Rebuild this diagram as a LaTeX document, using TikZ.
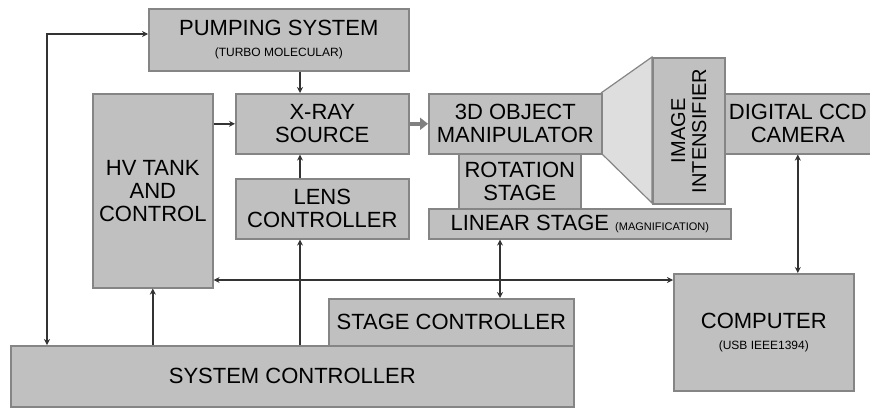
\documentclass[tikz,border=0pt]{standalone}
\usepackage{fontspec}
\setmainfont{Liberation Sans}
\usetikzlibrary{arrows.meta, positioning, calc}

\definecolor{boxgray}{HTML}{C0C0C0}
\definecolor{edgegray}{HTML}{858585}
\definecolor{conegray}{HTML}{DEDEDE}
\definecolor{wiregray}{HTML}{333333}

\tikzset{
  blk/.style={draw=edgegray, fill=boxgray, line width=0.8pt, inner sep=0pt,
    anchor=north west, align=center, text=black,
    font=\fontsize{11}{11.5}\selectfont},
  wire/.style={draw=wiregray, line width=0.8pt, {Stealth[length=3pt,width=3pt]}-{Stealth[length=3pt,width=3pt]}},
  wireto/.style={draw=wiregray, line width=0.8pt, -{Stealth[length=3pt,width=3pt]}},
  beam/.style={draw=gray, line width=2.2pt, -{Triangle[length=4pt,width=6pt]}}
}

\begin{document}
\begin{tikzpicture}[x=0.5pt, y=-0.5pt]
  \clip (0,0) rectangle (870,407);
  \useasboundingbox (0,0) rectangle (870,407);

  % Cone between manipulator and intensifier
  \draw[draw=edgegray, fill=conegray, line width=0.6pt]
    (601,93) -- (652,57) -- (652,203) -- (601,153);

  % Boxes
  \node[blk, minimum width=130pt, minimum height=31pt] (pump) at (148,8)
    {PUMPING SYSTEM\\[-1pt]{\fontsize{6}{7}\selectfont (TURBO MOLECULAR)}};
  \node[blk, minimum width=60pt, minimum height=97pt] (hv) at (92,93)
    {HV TANK\\AND\\CONTROL};
  \node[blk, minimum width=86.5pt, minimum height=30pt] (xray) at (235,93)
    {X-RAY\\SOURCE};
  \node[blk, minimum width=86.5pt, minimum height=30pt] (lens) at (235,178)
    {LENS\\CONTROLLER};
  \node[blk, minimum width=86.5pt, minimum height=30pt] (obj) at (428,93)
    {3D OBJECT\\MANIPULATOR};
  \node[blk, minimum width=61pt, minimum height=27.5pt] (rot) at (458,153)
    {ROTATION\\STAGE};
  \node[blk, minimum width=151pt, minimum height=15pt] (linear) at (428,208)
    {LINEAR STAGE {\fontsize{5.5}{6}\selectfont (MAGNIFICATION)}};
  \node[blk, minimum width=36pt, minimum height=73pt] (intens) at (652,57) {};
  \node[rotate=90, align=center, text=black, inner sep=0pt,
    font=\fontsize{10}{10.5}\selectfont] (intenstxt) at (intens.center)
    {IMAGE\\INTENSIFIER};
  \node[blk, minimum width=73pt, minimum height=30pt] (camera) at (724,93)
    {DIGITAL CCD\\CAMERA};
  \node[blk, minimum width=90pt, minimum height=58.5pt] (comp) at (673,273)
    {COMPUTER\\[-1pt]{\fontsize{6}{7}\selectfont (USB IEEE1394)}};
  \node[blk, minimum width=122.5pt, minimum height=23.5pt] (stagectl) at (328,298)
    {STAGE CONTROLLER};
  \node[blk, minimum width=281.5pt, minimum height=30.5pt] (sysctl) at (10,345)
    {SYSTEM CONTROLLER};

  % Bus positions
  \coordinate (lbus) at (47,34);
  \coordinate (vx) at (300,0);
  \coordinate (vs) at (500,0);
  \coordinate (hbus) at (0,280);

  % Connections
  \draw[wire] (lbus -| pump.west) -- (lbus) -- (lbus |- sysctl.north);
  \draw[wireto] (pump.south -| vx) -- (xray.north -| vx);
  \draw[wireto] (hv.east |- xray.west) -- (xray.west);
  \draw[wireto] (lens.north -| vx) -- (xray.south -| vx);
  \draw[wireto] (sysctl.north -| vx) -- (lens.south -| vx);
  \draw[wireto] (sysctl.north -| hv.south) -- (hv.south);
  \draw[wire] (hbus -| hv.east) -- (hbus -| comp.west);
  \draw[wire] (linear.south -| vs) -- (stagectl.north -| vs);
  \draw[wire] (camera.south) -- (camera.south |- comp.north);
  \draw[beam] (xray.east) -- (obj.west);
\end{tikzpicture}
\end{document}
